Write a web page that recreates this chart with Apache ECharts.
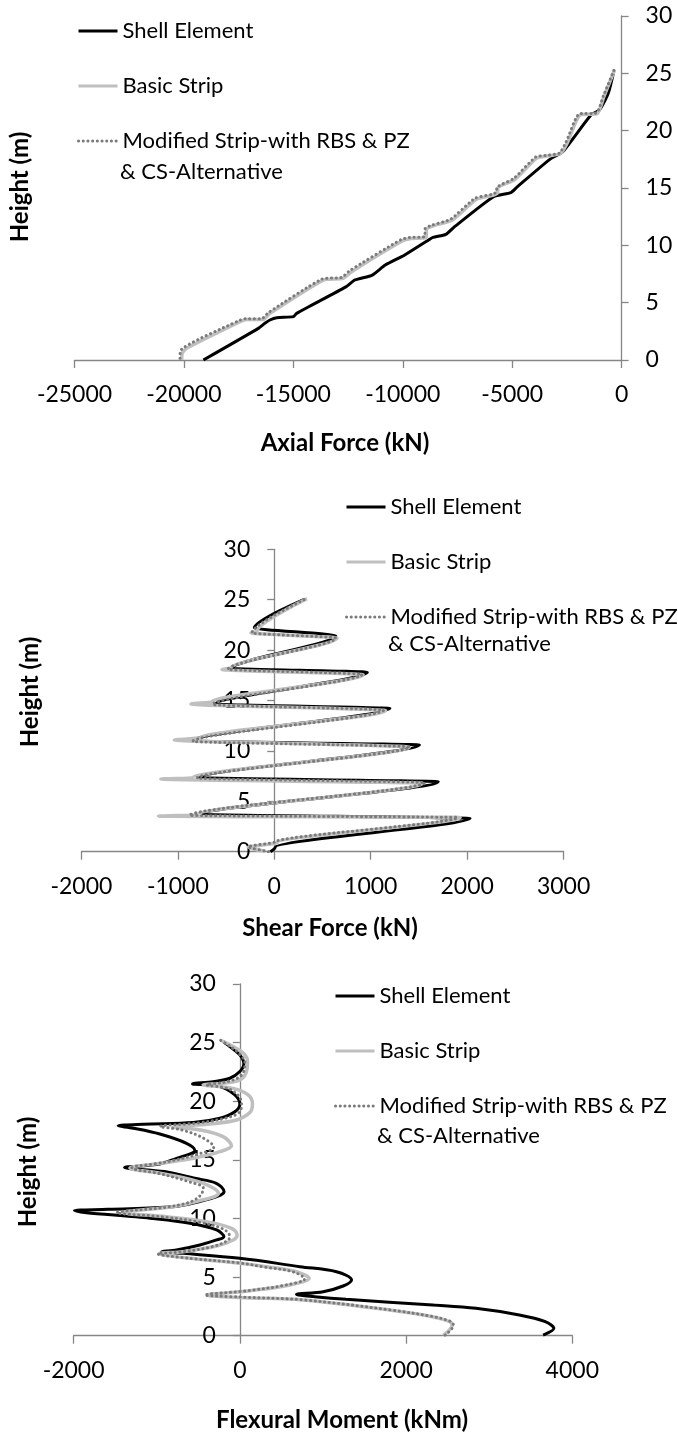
<!DOCTYPE html>
<html>
<head>
<meta charset="utf-8">
<script src="https://cdn.jsdelivr.net/npm/echarts@6/dist/echarts.min.js"></script>
<style>
html,body{margin:0;padding:0;background:#fff;}
#chart{width:678px;height:1436px;}
</style>
</head>
<body>
<div id="chart"></div>
<script>
// ---------- names ----------
const NAME_SHELL = 'Shell Element';
const NAME_BASIC = 'Basic Strip';
const NAME_MOD = 'Modified Strip-with RBS & PZ & CS-Alternative';

// ---------- tick labels ----------
const axialTicks = [-25000, -20000, -15000, -10000, -5000, 0];
const shearTicks = [-2000, -1000, 0, 1000, 2000, 3000];
const momentTicks = [-2000, 0, 2000, 4000];
const heightTicks = [0, 5, 10, 15, 20, 25, 30];

// ---------- chart 1: axial force ----------
const axialShellH = [0, 2.76, 3.2, 3.49, 3.69, 3.78, 4.07, 6.4, 6.98, 7.41, 8.28, 9.16, 10.47, 10.7, 10.96, 11.63, 14.24, 14.6, 15.1, 17.5, 18.17, 21.37, 21.8, 23.26, 25.15];
const axialShellF = [-19110, -16600, -16300, -16070, -15760, -15000, -14850, -12580, -12180, -11390, -10800, -9910, -8820, -8620, -8030, -7630, -5850, -5060, -4770, -3280, -2690, -1400, -1010, -610, -360];

const axialBasicH = [0, 0.58, 1.02, 3.34, 3.54, 3.54, 4.07, 6.97, 7.12, 7.7, 10.4, 10.6, 10.7, 11.4, 11.69, 12.2, 14.0, 14.39, 14.6, 14.97, 15.76, 17.6, 17.8, 18.0, 18.9, 21.37, 21.5, 22.97, 25.3];
const axialBasicF = [-20100, -20080, -19880, -17440, -17140, -16380, -16070, -13630, -12720, -12340, -10010, -9610, -8920, -8920, -8620, -7730, -6650, -5850, -5660, -5660, -4870, -3880, -3380, -2790, -2490, -1900, -1110, -810, -320];

const axialModH = [0.15, 0.85, 3.4, 3.6, 3.6, 4.15, 7.05, 7.2, 7.8, 10.5, 10.68, 10.78, 11.45, 11.75, 12.3, 14.1, 14.45, 14.65, 15.05, 15.85, 17.7, 17.85, 18.05, 19.0, 21.45, 21.55, 23.0, 25.35];
const axialModF = [-20180, -20150, -17530, -17200, -16450, -16130, -13700, -12800, -12420, -10080, -9680, -8990, -8980, -8680, -7800, -6700, -5920, -5720, -5700, -4920, -3930, -3430, -2840, -2540, -1940, -1150, -840, -330];

// ---------- chart 2: shear force ----------
const shearShellH = [0, 0.45, 3.31, 3.72, 6.95, 7.34, 10.58, 11.0, 14.22, 14.65, 17.8, 18.2, 21.43, 22.2, 25.04];
const shearShellF = [-40, 10, 2030, -740, 1700, -778, 1505, -864, 1199, -612, 965, -439, 638, -207, 311];

const shearBasicH = [0.05, 0.45, 0.9, 3.40, 3.52, 3.66, 6.8, 7.2, 7.32, 10.38, 11.08, 11.3, 14.0, 14.65, 14.85, 17.55, 18.08, 18.22, 21.2, 21.7, 21.85, 25.1];
const shearBasicF = [-100, -270, 30, 1927, -1200, -800, 1537, -1176, -850, 1402, -1037, -767, 1155, -864, -650, 921, -543, -450, 651, -242, -180, 339];

const shearModH = [0, 0.5, 0.95, 3.4, 3.6, 6.85, 7.3, 10.4, 10.95, 14.05, 14.6, 17.6, 18.1, 21.2, 21.7, 25.1];
const shearModF = [-60, -270, 0, 1900, -878, 1563, -802, 1402, -844, 1133, -640, 910, -480, 638, -231, 330];

// ---------- chart 3: flexural moment ----------
const momentShellH = [0.05, 0.63, 1.2, 1.77, 2.34, 2.62, 3.1, 3.33, 3.52, 3.75, 4.24, 4.75, 5.46, 5.89, 6.6, 7.03, 7.17, 7.31, 7.74, 8.17, 8.45, 9.02, 9.59, 10.02, 10.67, 10.78, 11.0, 11.43, 12.0, 12.29, 13.0, 13.43, 14.0, 14.34, 14.65, 15.13, 15.56, 15.8, 16.41, 17.2, 17.7, 17.9, 18.04, 18.18, 18.55, 19.1, 19.77, 20.54, 21.25, 21.48, 21.67, 21.96, 22.53, 23.2, 23.95, 24.66, 25.09];
const momentShellM = [3649, 3778, 3675, 3362, 2840, 2320, 1277, 900, 682, 1002, 1243, 1344, 1163, 722, 0, -682, -942, -762, -481, -280, -192, -280, -601, -1083, -1990, -1588, -806, -493, -231, -190, -283, -544, -908, -1387, -962, -762, -581, -541, -642, -962, -1283, -1464, -1163, -561, -240, -60, 0, -60, -240, -569, -321, -120, 0, 48, 0, -120, -201];

const momentBasicH = [0.05, 0.91, 1.19, 1.62, 2.19, 3.05, 3.26, 3.47, 3.84, 4.33, 4.89, 5.46, 5.89, 6.18, 6.6, 7.0, 7.17, 7.65, 8.17, 8.6, 9.16, 9.73, 10.15, 10.5, 11.0, 11.4, 12.15, 13.0, 13.8, 14.3, 14.75, 15.13, 15.7, 16.2, 16.98, 17.55, 17.8, 18.06, 18.4, 19.03, 19.77, 20.54, 21.1, 21.4, 21.54, 21.82, 22.53, 23.44, 24.23, 25.2];
const momentBasicM = [2450, 2555, 2526, 2320, 1800, 758, 0, -393, 120, 601, 834, 682, 321, 0, -601, -971, -682, -280, -80, -32, -100, -401, -882, -1403, -806, -548, -257, -439, -908, -1323, -900, -561, -240, -100, -201, -481, -802, -361, -40, 120, 152, 100, -80, -441, -201, 0, 80, 92, 20, -232];

const momentModH = [0.05, 0.9, 1.2, 1.62, 2.2, 3.05, 3.3, 3.47, 3.85, 4.35, 4.85, 5.45, 5.85, 6.2, 6.6, 6.98, 7.15, 7.6, 8.1, 8.45, 9.1, 9.7, 10.15, 10.5, 10.95, 11.4, 12.0, 12.6, 13.1, 13.8, 14.3, 14.8, 15.4, 16.1, 16.9, 17.55, 17.85, 18.15, 18.6, 19.1, 19.8, 20.5, 21.1, 21.4, 21.6, 22.0, 22.6, 23.3, 24.0, 24.6, 25.2];
const momentModM = [2470, 2570, 2540, 2330, 1810, 770, 0, -420, 110, 570, 780, 640, 300, 0, -600, -990, -700, -330, -150, -120, -200, -500, -950, -1481, -900, -600, -470, -439, -600, -950, -1300, -900, -550, -313, -450, -700, -962, -500, -150, 0, 20, -20, -150, -401, -200, -20, 50, 60, 0, -100, -232];

// ---------- helpers ----------
const FONT = 'Lato, "Liberation Sans", sans-serif';
const AXIS_COLOR = '#868686';
const zip = (xs, ys) => xs.map((v, i) => [v, ys[i]]);

const styleShell = { color: '#000000', width: 3 };
const styleBasic = { color: '#bfbfbf', width: 3.5 };
const styleMod = { color: '#7a7a7a', width: 3, type: [0.1, 4.6], cap: 'round' };

function series(name, xs, ys, idx, style, smooth, mono, z) {
  return {
    name: name, type: 'line', xAxisIndex: idx, yAxisIndex: idx,
    data: zip(xs, ys), showSymbol: false, symbol: 'none',
    smooth: smooth, smoothMonotone: mono,
    lineStyle: style, itemStyle: { color: style.color },
    z: z, animation: false
  };
}

const grids = [
  { left: 74.5, top: 16, width: 547.1, height: 344 },
  { left: 81.4, top: 549.3, width: 482.2, height: 302.4 },
  { left: 73.6, top: 984, width: 498.7, height: 351.7 }
];

const xTickSets = [axialTicks, shearTicks, momentTicks];

const xAxes = xTickSets.map((t, i) => ({
  type: 'value', gridIndex: i,
  min: t[0], max: t[t.length - 1], interval: t[1] - t[0],
  splitLine: { show: false },
  axisLine: { show: true, onZero: false, lineStyle: { color: AXIS_COLOR, width: 1.3 } },
  axisTick: { show: true, length: 8, lineStyle: { color: AXIS_COLOR, width: 1.3 } },
  axisLabel: { margin: 23, fontFamily: FONT, fontSize: 23, color: '#000', formatter: v => String(v) }
}));

// vertical axis crosses the horizontal axis at 0
function zeroOffset(i) {
  const t = xTickSets[i];
  const lo = t[0], hi = t[t.length - 1];
  return -(0 - lo) / (hi - lo) * grids[i].width;
}

const yAxes = [0, 1, 2].map(i => ({
  type: 'value', gridIndex: i,
  min: heightTicks[0], max: heightTicks[heightTicks.length - 1], interval: heightTicks[1] - heightTicks[0],
  position: i === 0 ? 'right' : 'left',
  offset: i === 0 ? 0 : zeroOffset(i),
  splitLine: { show: false },
  axisLine: { show: true, onZero: false, lineStyle: { color: AXIS_COLOR, width: 1.3 } },
  axisTick: { show: true, length: 7, lineStyle: { color: AXIS_COLOR, width: 1.3 } },
  axisLabel: { margin: 24, fontFamily: FONT, fontSize: 23, color: '#000', formatter: v => String(v) }
}));

const legendPos = [
  { left: 77, top: 20, second: [120, 171.7] },
  { left: 345, top: 496, second: [388, 644] },
  { left: 334, top: 985, second: [377, 1135.7] }
];

const legends = legendPos.map(p => ({
  orient: 'vertical', left: p.left, top: p.top,
  itemWidth: 39, itemHeight: 14, itemGap: 33, padding: 0,
  selectedMode: false,
  itemStyle: { opacity: 0, borderWidth: 0 },
  lineStyle: { width: 3 },
  data: [NAME_SHELL, NAME_BASIC, NAME_MOD],
  formatter: n => n === NAME_MOD ? 'Modified Strip-with RBS & PZ' : n,
  textStyle: { fontFamily: FONT, fontSize: 22, color: '#000' }
}));

function txt(x, y, s, bold, rot) {
  return {
    type: 'text', x: x, y: y, rotation: rot || 0,
    style: {
      text: s, fill: '#000', font: (bold ? 'bold 24px ' : '22px ') + FONT,
      textAlign: bold ? 'center' : 'left', textVerticalAlign: 'middle'
    }
  };
}

const graphics = [
  txt(345, 443, 'Axial Force (kN)', true),
  txt(20, 187, 'Height (m)', true, Math.PI / 2),
  txt(330, 928, 'Shear Force (kN)', true),
  txt(30, 692, 'Height (m)', true, Math.PI / 2),
  txt(342, 1420, 'Flexural Moment (kNm)', true),
  txt(28, 1172, 'Height (m)', true, Math.PI / 2)
].concat(legendPos.map(p => txt(p.second[0], p.second[1], '& CS-Alternative', false)));

const option = {
  backgroundColor: '#ffffff',
  animation: false,
  grid: grids,
  xAxis: xAxes,
  yAxis: yAxes,
  legend: legends,
  graphic: graphics,
  series: [
    series(NAME_SHELL, axialShellF, axialShellH, 0, styleShell, 0.2, null, 2),
    series(NAME_BASIC, axialBasicF, axialBasicH, 0, styleBasic, 0.2, null, 3),
    series(NAME_MOD, axialModF, axialModH, 0, styleMod, 0.2, null, 4),
    series(NAME_SHELL, shearShellF, shearShellH, 1, styleShell, 0.25, 'y', 2),
    series(NAME_BASIC, shearBasicF, shearBasicH, 1, styleBasic, 0.25, 'y', 3),
    series(NAME_MOD, shearModF, shearModH, 1, styleMod, 0.25, 'y', 4),
    series(NAME_SHELL, momentShellM, momentShellH, 2, styleShell, 0.35, null, 2),
    series(NAME_BASIC, momentBasicM, momentBasicH, 2, styleBasic, 0.35, null, 3),
    series(NAME_MOD, momentModM, momentModH, 2, styleMod, 0.35, null, 4)
  ]
};

const chart = echarts.init(document.getElementById('chart'), null, { renderer: 'canvas' });
chart.setOption(option);
</script>
</body>
</html>
